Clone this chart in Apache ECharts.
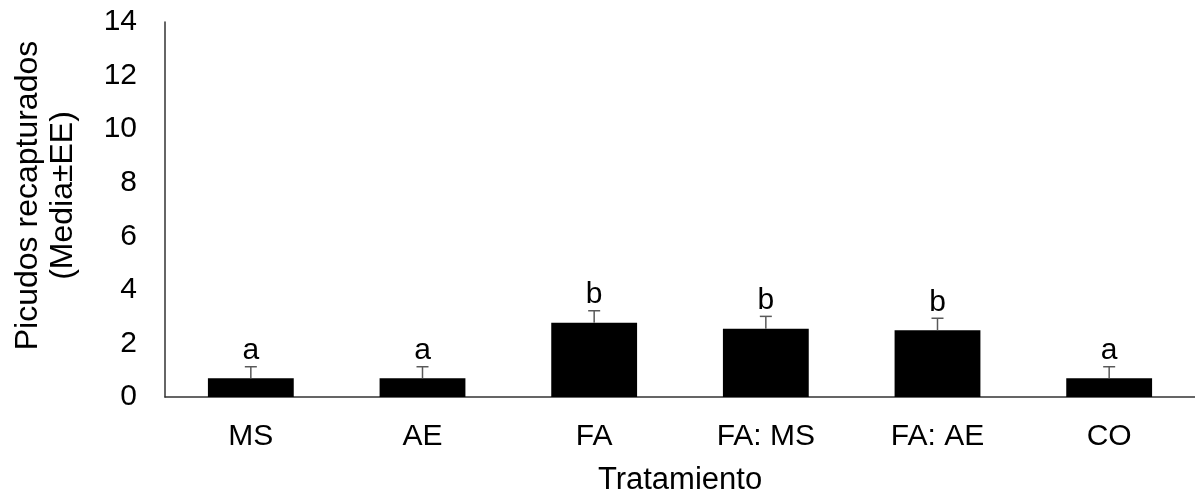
<!DOCTYPE html>
<html>
<head>
<meta charset="utf-8">
<script src="https://cdn.jsdelivr.net/npm/echarts@6/dist/echarts.min.js"></script>
<style>
  html, body { margin: 0; padding: 0; background: #ffffff; }
  #chart { width: 1195px; height: 501px; }
</style>
</head>
<body>
<div id="chart"></div>
<script>
var categories = ['MS', 'AE', 'FA', 'FA: MS', 'FA: AE', 'CO'];
var means = [0.7, 0.7, 2.77, 2.55, 2.49, 0.7];
var errors = [0.43, 0.43, 0.45, 0.46, 0.45, 0.43];
var letters = ['a', 'a', 'b', 'b', 'b', 'a'];
var yTicks = [0, 2, 4, 6, 8, 10, 12, 14];

var FONT = '"Liberation Sans", Arial, sans-serif';

var errData = means.map(function (m, i) { return [i, m, errors[i]]; });

var chart = echarts.init(document.getElementById('chart'), null, { renderer: 'canvas' });
chart.setOption({
  backgroundColor: '#ffffff',
  animation: false,
  grid: { left: 165, right: -5, top: 22, bottom: 95, containLabel: false },
  xAxis: {
    type: 'category',
    data: categories,
    name: 'Tratamiento',
    nameLocation: 'middle',
    nameGap: 68,
    nameTextStyle: { color: '#000', fontSize: 31, fontFamily: FONT },
    axisLine: { show: true, lineStyle: { color: '#333333', width: 1.5 } },
    axisTick: { show: false },
    axisLabel: { color: '#000', fontSize: 30, fontFamily: FONT, margin: 25, interval: 0 },
    splitLine: { show: false }
  },
  yAxis: {
    type: 'value',
    min: yTicks[0],
    max: yTicks[yTicks.length - 1],
    interval: 2,
    name: 'Picudos recapturados\n(Media±EE)',
    nameLocation: 'middle',
    nameGap: 84,
    nameTextStyle: { color: '#000', fontSize: 32, fontFamily: FONT, lineHeight: 35, align: 'center',
                     padding: [0, 0, 0, 28] },
    axisLine: { show: true, lineStyle: { color: '#333333', width: 1.5 } },
    axisTick: { show: false },
    axisLabel: { color: '#000', fontSize: 30, fontFamily: FONT, margin: 28 },
    splitLine: { show: false }
  },
  series: [
    {
      type: 'bar',
      data: means,
      barCategoryGap: '50%',
      itemStyle: { color: '#000000' },
      z: 2
    },
    {
      type: 'custom',
      data: errData,
      encode: { x: 0, y: 1 },
      z: 3,
      renderItem: function (params, api) {
        var i = api.value(0), m = api.value(1), e = api.value(2);
        var base = api.coord([i, m]);
        var top = api.coord([i, m + e]);
        var hw = 6;
        return {
          type: 'group',
          children: [
            { type: 'line', shape: { x1: base[0], y1: base[1], x2: top[0], y2: top[1] },
              style: { stroke: '#595959', lineWidth: 1.5 } },
            { type: 'line', shape: { x1: top[0] - hw, y1: top[1], x2: top[0] + hw, y2: top[1] },
              style: { stroke: '#595959', lineWidth: 1.5 } },
            { type: 'text', x: top[0], y: top[1] - 1,
              style: { text: letters[params.dataIndex], fontSize: 30, fontFamily: FONT,
                       fill: '#000', align: 'center', verticalAlign: 'bottom' } }
          ]
        };
      }
    }
  ]
});
</script>
</body>
</html>
